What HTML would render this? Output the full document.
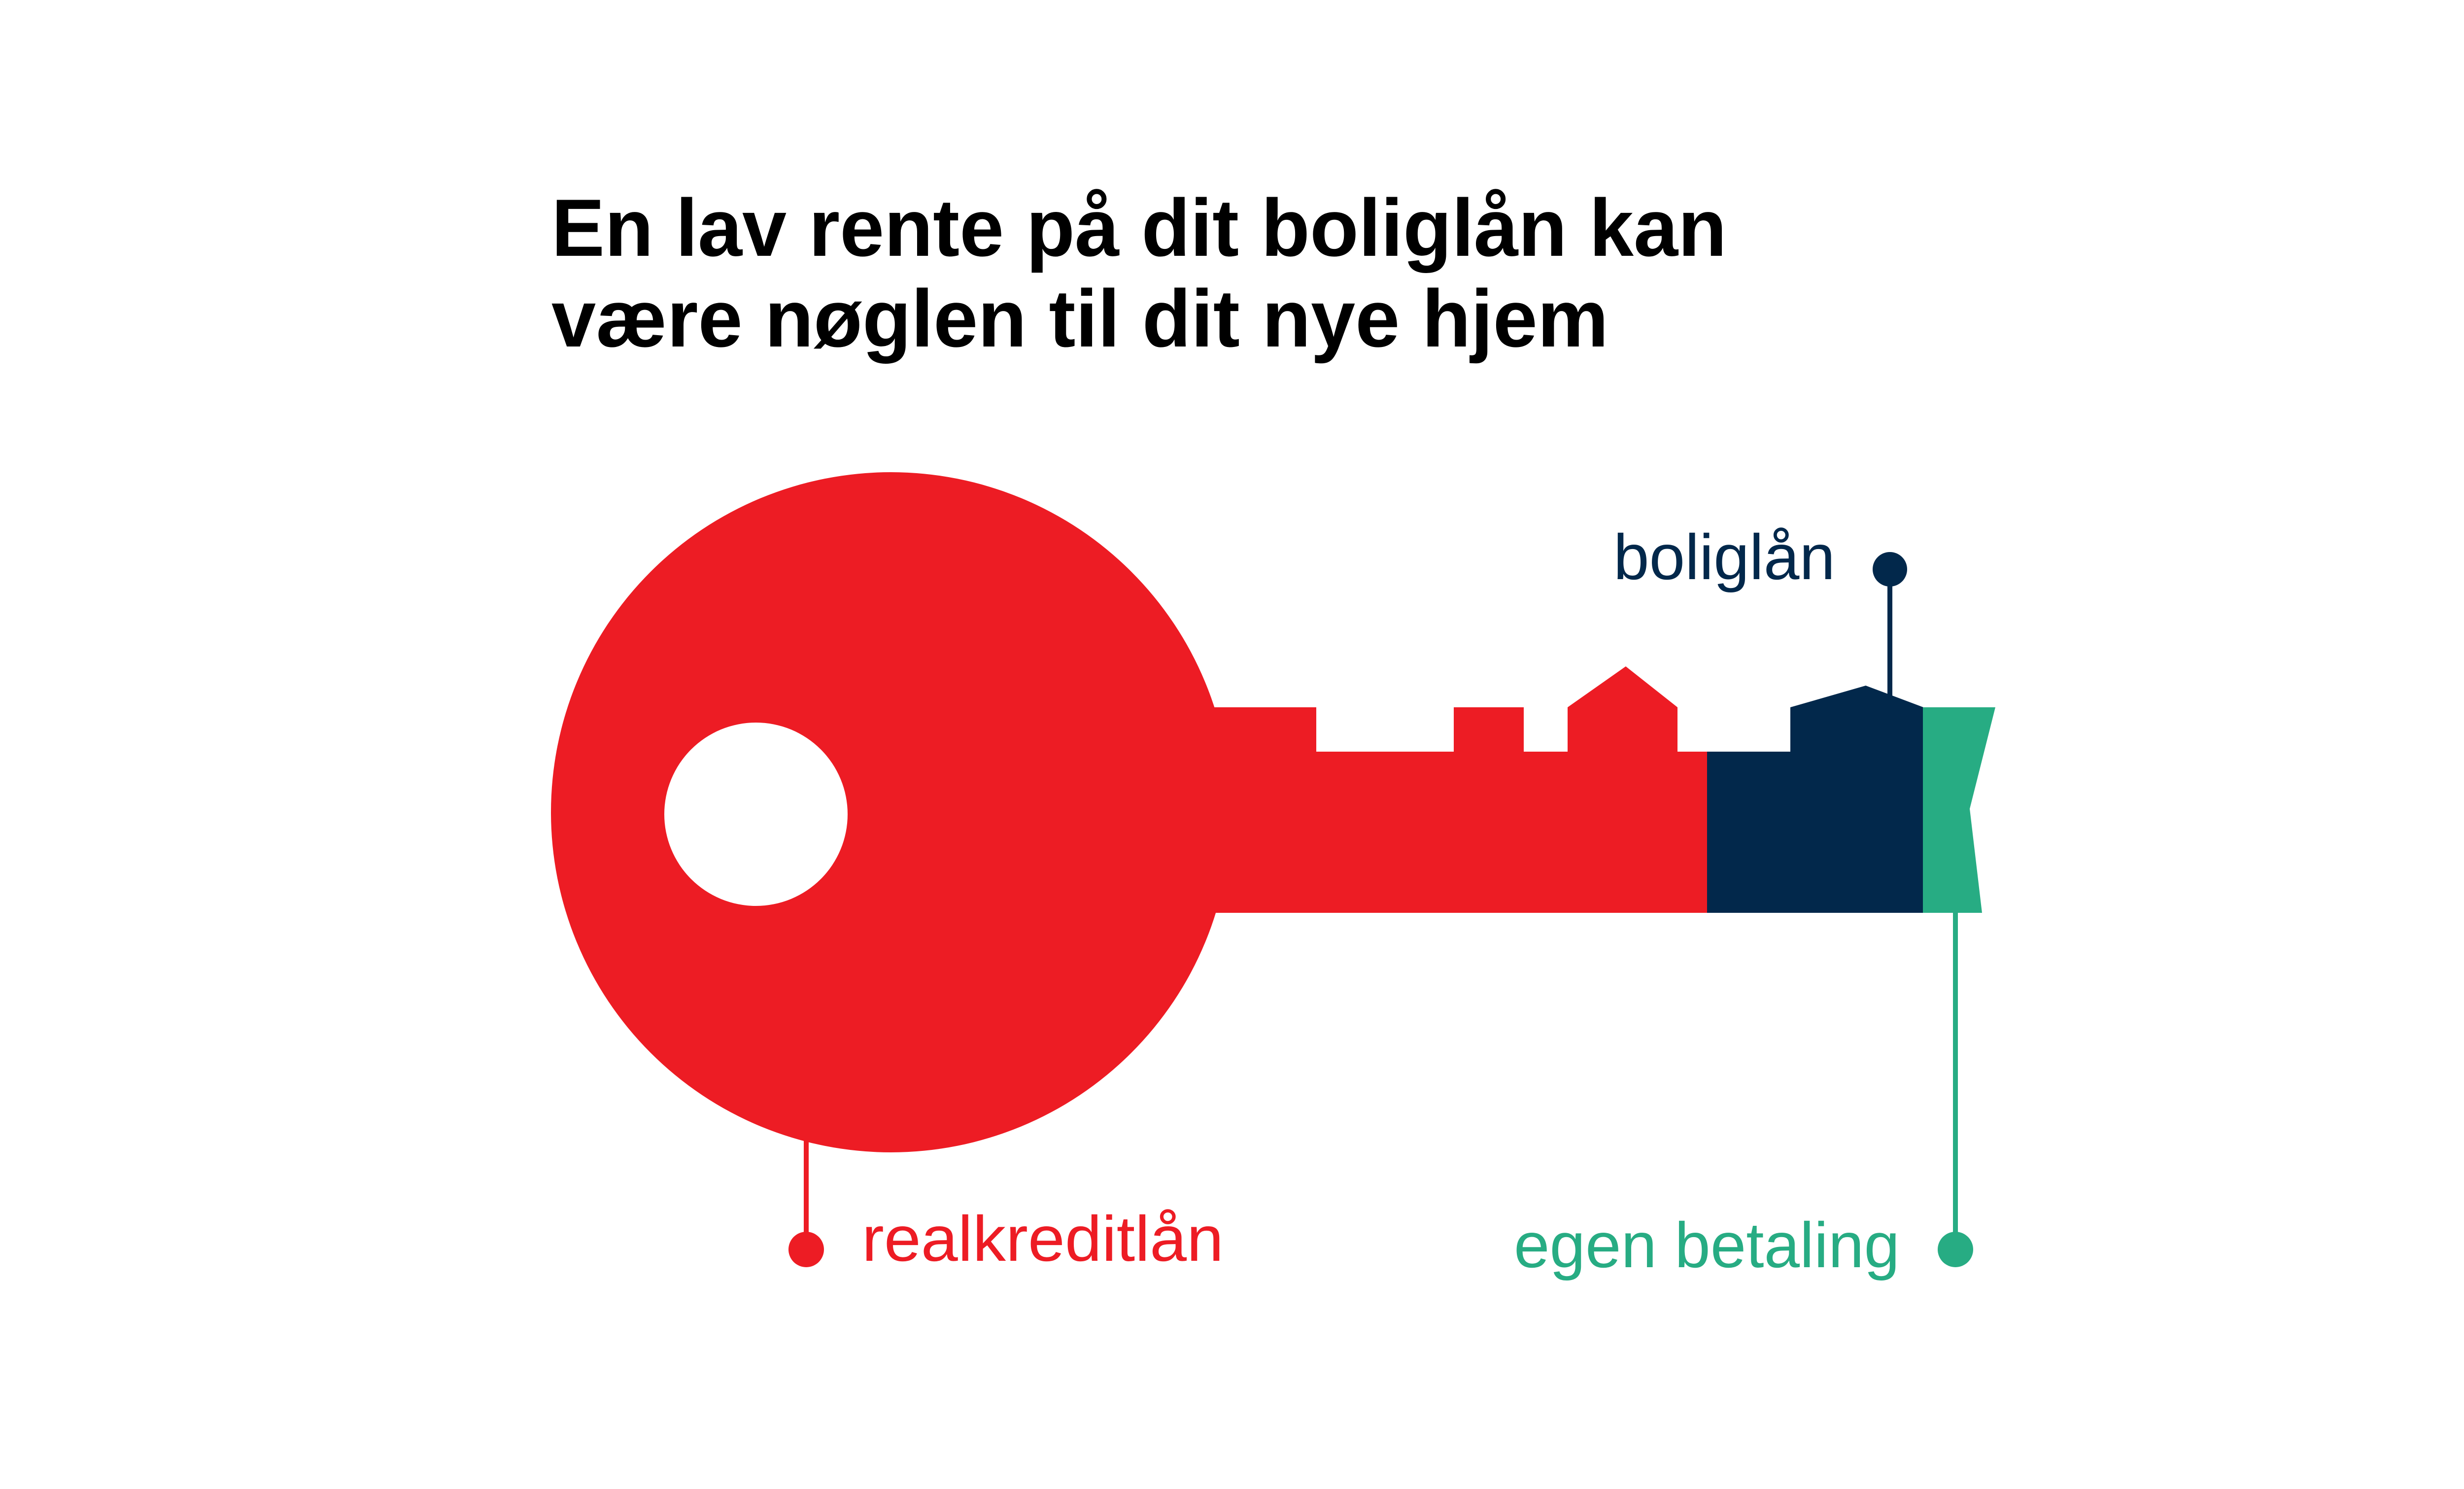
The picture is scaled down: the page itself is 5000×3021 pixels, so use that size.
<!DOCTYPE html>
<html><head><meta charset="utf-8"><style>
html,body{margin:0;padding:0;background:#fff;}
svg{display:block;}
</style></head><body>
<svg width="5000" height="3021" viewBox="0 0 5000 3021" xmlns="http://www.w3.org/2000/svg">
<rect width="5000" height="3021" fill="#fff"/>
<g font-family="'Liberation Sans', sans-serif">
<text x="1119" y="519" font-size="165" font-weight="bold" fill="#000" textLength="2385" lengthAdjust="spacingAndGlyphs">En lav rente på dit boliglån kan</text>
<text x="1119" y="703" font-size="165" font-weight="bold" fill="#000" textLength="2145" lengthAdjust="spacingAndGlyphs">være nøglen til dit nye hjem</text>
</g>
<line x1="1636" y1="2290" x2="1636" y2="2535" stroke="#ED1C24" stroke-width="10"/>
<circle cx="1636" cy="2535" r="36" fill="#ED1C24"/>
<line x1="3835" y1="1155" x2="3835" y2="1420" stroke="#02284B" stroke-width="10"/>
<circle cx="3835" cy="1155" r="35" fill="#02284B"/>
<line x1="3968" y1="1840" x2="3968" y2="2535" stroke="#27AC83" stroke-width="10"/>
<circle cx="3968" cy="2535" r="36" fill="#27AC83"/>
<circle cx="1808" cy="1648" r="690" fill="#ED1C24"/>
<path d="M2400,1435 L2671,1435 L2671,1525 L2950,1525 L2950,1435 L3092,1435 L3092,1525 L3181,1525 L3181,1435 L3299,1352 L3404,1435 L3404,1525 L3466,1525 L3466,1852 L2400,1852 Z" fill="#ED1C24"/>
<circle cx="1534" cy="1652" r="186" fill="#fff"/>
<path d="M3464,1525 L3633,1525 L3633,1435 L3786,1391 L3903,1435 L3903,1852 L3464,1852 Z" fill="#02284B"/>
<path d="M3902,1435 L4049,1435 L3997,1641 L4022,1852 L3902,1852 Z" fill="#27AC83"/>
<g font-family="'Liberation Sans', sans-serif">
<text x="3274" y="1175" font-size="130" fill="#02284B" textLength="450" lengthAdjust="spacingAndGlyphs">boliglån</text>
<text x="1749" y="2558" font-size="130" fill="#ED1C24" textLength="734" lengthAdjust="spacingAndGlyphs">realkreditlån</text>
<text x="3072" y="2571" font-size="130" fill="#27AC83" textLength="783" lengthAdjust="spacingAndGlyphs">egen betaling</text>
</g>
</svg>
</body></html>
